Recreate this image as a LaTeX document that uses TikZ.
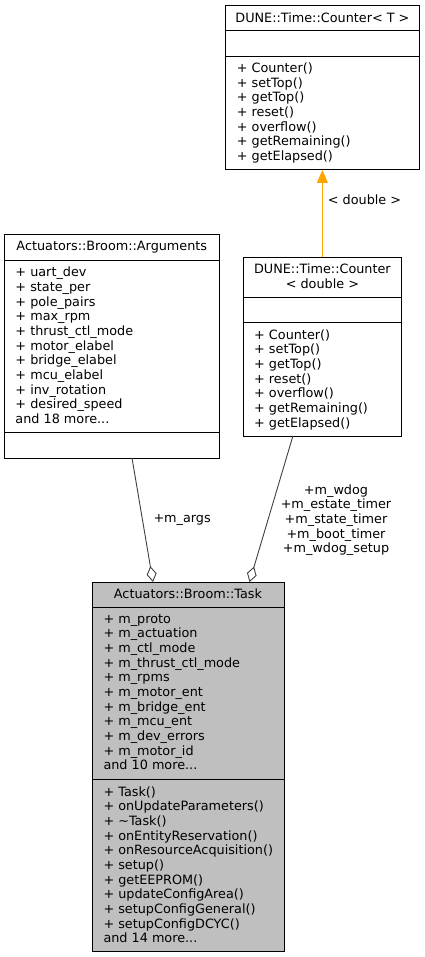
\documentclass[tikz,border=0pt]{standalone}
\usepackage{fontspec}
\setmainfont{DejaVu Sans}
\usetikzlibrary{arrows.meta}
\definecolor{taskgray}{HTML}{BFBFBF}
\definecolor{edgegray}{HTML}{404040}
\definecolor{inhorange}{HTML}{FFA500}
\newcommand\umlfont{\fontsize{12.8}{14.67}\selectfont}
\newcommand\andmore[1]{and #1 more...}
\tikzset{
 box/.style={draw=black, line width=1pt, inner sep=0, outer sep=0},
 sepline/.style={draw=black, line width=1pt},
 row/.style={anchor=base west, inner sep=0, font=\umlfont},
 ttl/.style={anchor=base, inner sep=0, font=\umlfont},
 agg/.style={draw=edgegray, line width=0.9pt, -{Diamond[open,length=16pt,width=10pt]}},
 inh/.style={draw=inhorange, line width=1pt, -{Triangle[length=13pt,width=11pt]}},
 lbl/.style={inner sep=0, font=\umlfont, anchor=base}
}
\newcommand\umlrows[4]{%
  \foreach \t [count=\i from 0] in {#4} {\node[row] (#1\i) at (#2,#3+\i*14.67) {\t};}%
}
\begin{document}
\begin{tikzpicture}[x=1pt,y=-1pt]
\useasboundingbox (0,0) rectangle (425,957);
% Counter<T>
\node[box, fill=white, minimum width=194pt, minimum height=164.3pt] (ct) at (322.4,87.85) {};
\draw[sepline] (ct.west |- 0,31) -- (ct.east |- 0,31);
\draw[sepline] (ct.west |- 0,57) -- (ct.east |- 0,57);
\node[ttl] (cttitle) at (322.4,22.5) {DUNE::Time::Counter< T >};
\umlrows{ctm}{236.7}{72.5}{+ Counter(),+ setTop(),+ getTop(),+ reset(),+ overflow(),+ getRemaining(),+ getElapsed()}
% Arguments
\node[box, fill=white, minimum width=215pt, minimum height=223pt] (args) at (111.8,346.5) {};
\draw[sepline] (args.west |- 0,260.7) -- (args.east |- 0,260.7);
\draw[sepline] (args.west |- 0,432.3) -- (args.east |- 0,432.3);
\node[ttl] (argstitle) at (111.8,251) {Actuators::Broom::Arguments};
\umlrows{arga}{15.3}{276.7}{+ uart\_dev,+ state\_per,+ pole\_pairs,+ max\_rpm,+ thrust\_ctl\_mode,+ motor\_elabel,+ bridge\_elabel,+ mcu\_elabel,+ inv\_rotation,+ desired\_speed,\andmore{18}}
% Counter<double>
\node[box, fill=white, minimum width=158.7pt, minimum height=178.7pt] (cd) at (322.4,346.65) {};
\draw[sepline] (cd.west |- 0,297) -- (cd.east |- 0,297);
\draw[sepline] (cd.west |- 0,322.7) -- (cd.east |- 0,322.7);
\node[ttl] (cdtitle1) at (322.4,274) {DUNE::Time::Counter};
\node[ttl] (cdtitle2) at (322.4,288.7) {< double >};
\umlrows{cdm}{254}{339.3}{+ Counter(),+ setTop(),+ getTop(),+ reset(),+ overflow(),+ getRemaining(),+ getElapsed()}
% Task
\node[box, fill=taskgray, minimum width=192pt, minimum height=369pt] (task) at (188,766.5) {};
\draw[sepline] (task.west |- 0,607.3) -- (task.east |- 0,607.3);
\draw[sepline] (task.west |- 0,779.3) -- (task.east |- 0,779.3);
\node[ttl] (tasktitle) at (188,598) {Actuators::Broom::Task};
\umlrows{taska}{103.3}{623}{+ m\_proto,+ m\_actuation,+ m\_ctl\_mode,+ m\_thrust\_ctl\_mode,+ m\_rpms,+ m\_motor\_ent,+ m\_bridge\_ent,+ m\_mcu\_ent,+ m\_dev\_errors,+ m\_motor\_id,\andmore{10}}
\umlrows{taskm}{103.3}{796}{+ Task(),+ onUpdateParameters(),+ \textasciitilde Task(),+ onEntityReservation(),+ onResourceAcquisition(),+ setup(),+ getEEPROM(),+ updateConfigArea(),+ setupConfigGeneral(),+ setupConfigDCYC(),\andmore{14}}
% edges
\draw[inh] (cd.north) -- (ct.south);
\node[row] (lbldouble) at (327.7,205) {< double >};
\draw[agg] ([xshift=20.2pt]args.south) -- ([xshift=-35pt]task.north);
\node[row] (lblargs) at (153.3,522.5) {+m\_args};
\draw[agg] ([xshift=-29.5pt]cd.south) -- ([xshift=61.5pt]task.north);
\node[lbl] (lblw1) at (336,494) {+m\_wdog};
\node[lbl] (lblw2) at (336,508.7) {+m\_estate\_timer};
\node[lbl] (lblw3) at (336,523.3) {+m\_state\_timer};
\node[lbl] (lblw4) at (336,538) {+m\_boot\_timer};
\node[lbl] (lblw5) at (336,552.6) {+m\_wdog\_setup};
\end{tikzpicture}
\end{document}
